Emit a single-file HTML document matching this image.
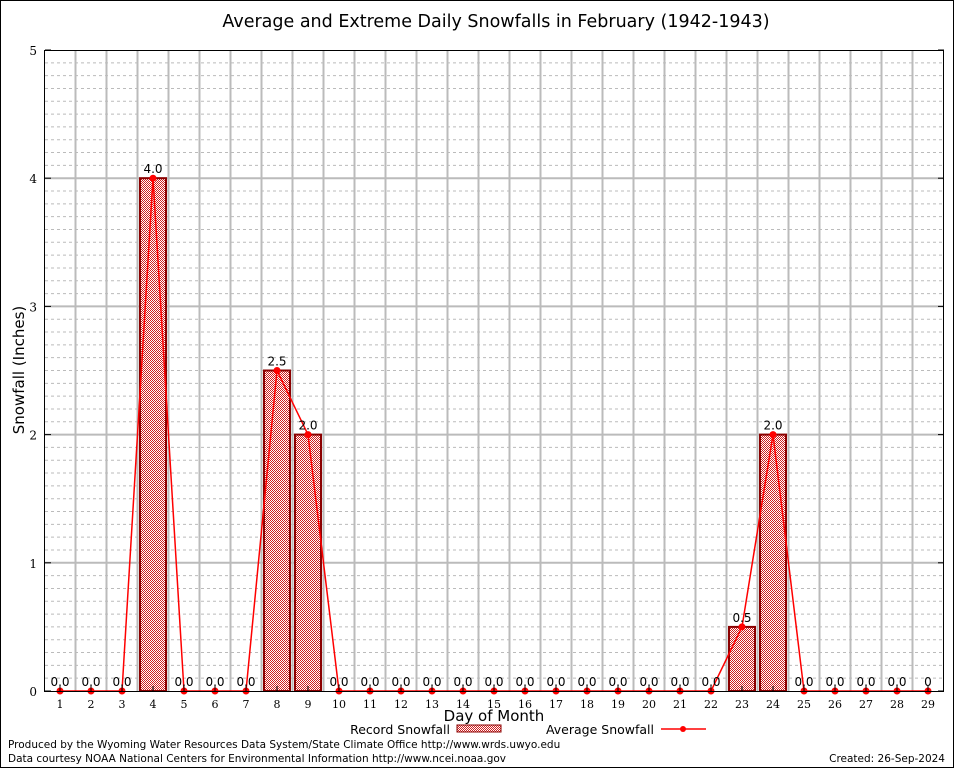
<!DOCTYPE html>
<html><head><meta charset="utf-8"><style>
body{margin:0;background:#fff}
svg{display:block}
text{font-family:"DejaVu Sans","Liberation Sans",sans-serif}
.serif{font-family:"DejaVu Serif","Liberation Serif",serif}
</style></head><body>
<svg id="chart" width="954" height="768" viewBox="0 0 954 768" xmlns="http://www.w3.org/2000/svg">
<defs>
<pattern id="chk" width="2" height="2" patternUnits="userSpaceOnUse">
<rect width="2" height="2" fill="#fff"/><rect width="1" height="1" fill="#d02020"/><rect x="1" y="1" width="1" height="1" fill="#d02020"/>
</pattern>
</defs>
<rect x="0.5" y="0.5" width="953" height="767" fill="#fff" stroke="#000"/>
<text x="496" y="27" font-size="17.5" text-anchor="middle">Average and Extreme Daily Snowfalls in February (1942-1943)</text>
<g id="grid"></g>
<g id="bars"></g>
<g id="line"></g>
<g id="labels"></g>
<rect x="44.5" y="50.5" width="899" height="641" fill="none" stroke="#000"/>
<g id="axes"></g>
<text x="24" y="370" font-size="15" text-anchor="middle" transform="rotate(-90 24 370)">Snowfall (Inches)</text>
<text x="494" y="721" font-size="15" text-anchor="middle">Day of Month</text>
<g>
<text x="450" y="734" font-size="12.5" text-anchor="end">Record Snowfall</text>
<rect x="457" y="725" width="44" height="7" fill="url(#chk)" stroke="#8b0000"/>
</g>
<g>
<text x="654" y="734" font-size="12.5" text-anchor="end">Average Snowfall</text>
<line x1="661" y1="729" x2="706" y2="729" stroke="#f00" stroke-width="1.5"/>
<circle cx="683" cy="729" r="3" fill="#f00"/>
</g>
<text x="8" y="748" font-size="10.5">Produced by the Wyoming Water Resources Data System/State Climate Office http://www.wrds.uwyo.edu</text>
<text x="8" y="762" font-size="10.5">Data courtesy NOAA National Centers for Environmental Information http://www.ncei.noaa.gov</text>
<text x="945" y="762" font-size="10.5" text-anchor="end">Created:  26-Sep-2024</text>
</svg>
<script>
const days = [1,2,3,4,5,6,7,8,9,10,11,12,13,14,15,16,17,18,19,20,21,22,23,24,25,26,27,28,29];
const recordSnow = [0,0,0,4,0,0,0,2.5,2,0,0,0,0,0,0,0,0,0,0,0,0,0,0.5,2,0,0,0,0,0];
const avgSnow = [0,0,0,4,0,0,0,2.5,2,0,0,0,0,0,0,0,0,0,0,0,0,0,0.5,2,0,0,0,0,0];
const valueLabels = ["0.0","0.0","0.0","4.0","0.0","0.0","0.0","2.5","2.0","0.0","0.0","0.0","0.0","0.0","0.0","0.0","0.0","0.0","0.0","0.0","0.0","0.0","0.5","2.0","0.0","0.0","0.0","0.0","0"];
const yTicks = [0,1,2,3,4,5];
const NS="http://www.w3.org/2000/svg";
const x = d => 60 + (d-1)*31;
const y = v => 691 - v*128.2;
function mk(tag, attrs, parent){const e=document.createElementNS(NS,tag);for(const k in attrs)e.setAttribute(k,attrs[k]);document.getElementById(parent).appendChild(e);return e;}
for(let i=1;i<50;i++){ if(i%10===0) continue;
  const l=mk('line',{x1:45,x2:944,y1:y(i/10),y2:y(i/10),stroke:'#bbb','stroke-dasharray':'3,3'},'grid');
  
  
}
for(let k=1;k<29;k++){
  const gx=44.5+k*31;
  const l=mk('line',{x1:gx,x2:gx,y1:50,y2:691,stroke:'#bbb','stroke-width':2},'grid');
  
  
}
yTicks.forEach(t=>{
  if(t>0&&t<5){const l=mk('line',{x1:45,x2:944,y1:y(t),y2:y(t),stroke:'#bbb','stroke-width':2},'grid');
  
  }
  const tl=mk('line',{x1:45,x2:51,y1:y(t),y2:y(t),stroke:'#000'},'axes');
  
  
  const tr=mk('line',{x1:938,x2:944,y1:y(t),y2:y(t),stroke:'#000'},'axes');
  
  
  const tx=mk('text',{x:37,y:y(t)+5,'font-size':12,'text-anchor':'end',class:'serif'},'axes');
  tx.textContent=t;
  
  
});
days.forEach((d,i)=>{
  const tk=mk('line',{x1:x(d),x2:x(d),y1:686,y2:691,stroke:'#000'},'axes');
  
  
  const tx=mk('text',{x:x(d),y:708,'font-size':11,'text-anchor':'middle',class:'serif'},'axes');
  tx.textContent=d;
  
  
  if(recordSnow[i]>0){
    const b=mk('rect',{x:x(d)-13,y:y(recordSnow[i]),width:26,height:691-y(recordSnow[i]),fill:'url(#chk)',stroke:'#8b0000','stroke-width':2},'bars');
    
    
  }
  const lb=mk('text',{x:x(d),y:y(Math.max(recordSnow[i],avgSnow[i]))-5,'font-size':12,'text-anchor':'middle'},'labels');
  lb.textContent=valueLabels[i];
  
  
});
const pl=mk('polyline',{points:days.map((d,i)=>x(d)+','+y(avgSnow[i])).join(' '),fill:'none',stroke:'#f00','stroke-width':1.5},'line');


days.forEach((d,i)=>{
  const c=mk('circle',{cx:x(d),cy:y(avgSnow[i]),r:3.5,fill:'#f00'},'line');
  
  
});
</script>
</body></html>
